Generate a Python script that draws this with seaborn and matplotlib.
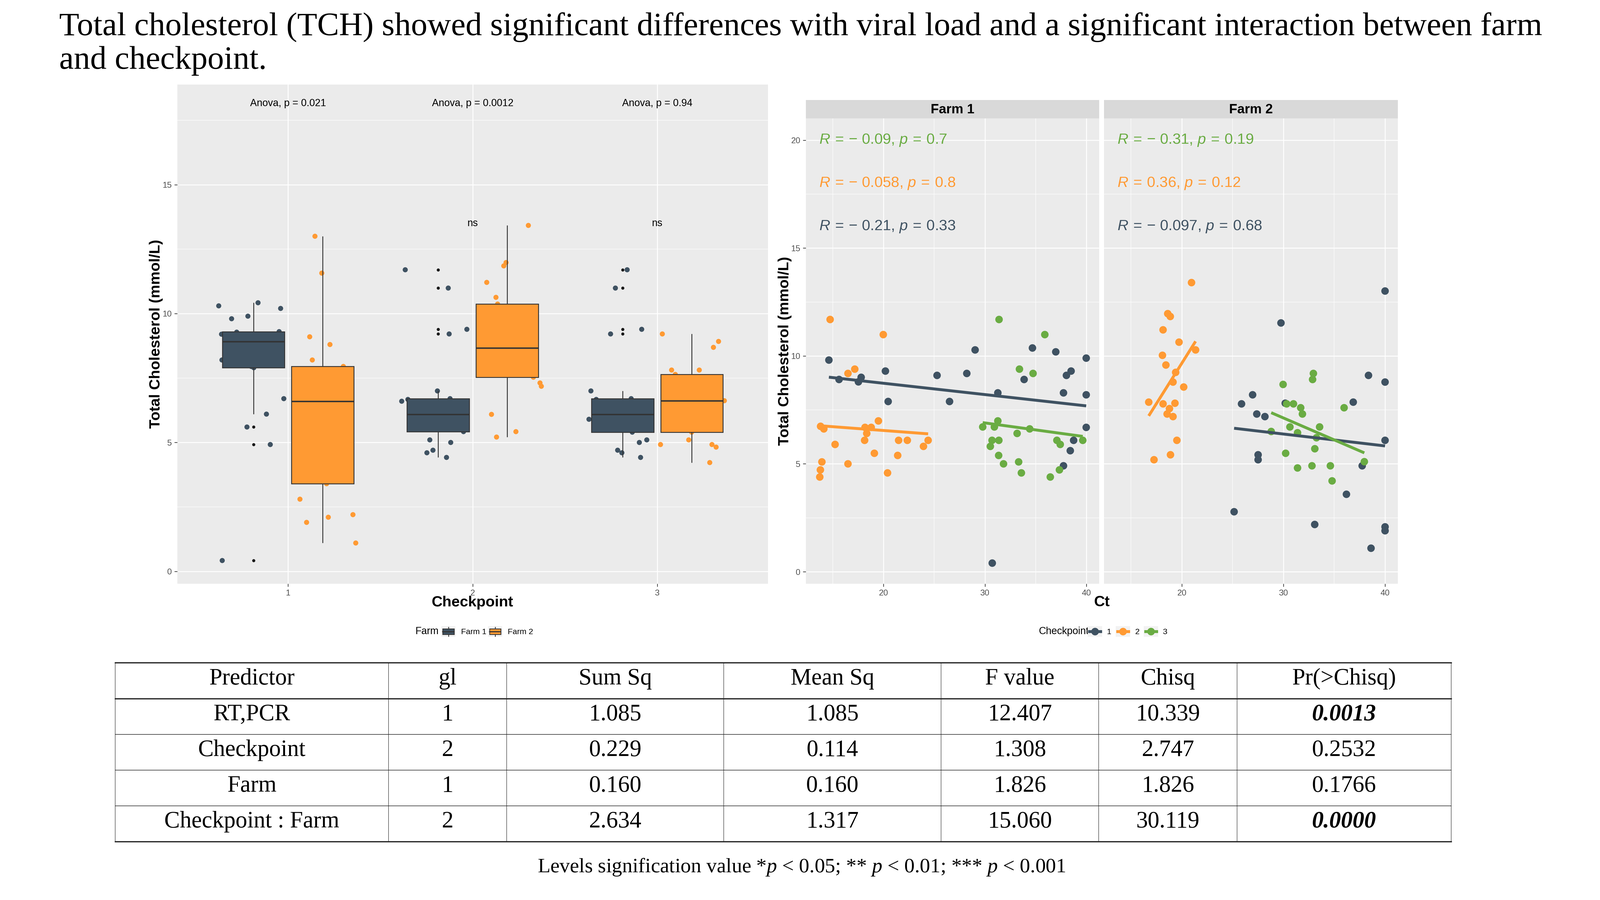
import numpy as np
import pandas as pd
import matplotlib
matplotlib.use("Agg")
import matplotlib.pyplot as plt
import seaborn as sns
from matplotlib.patches import Rectangle, Patch
from matplotlib.lines import Line2D
from matplotlib.legend_handler import HandlerBase
from matplotlib.ticker import MultipleLocator

# ---------------- data ----------------
checkpoints = ["1", "2", "3"]
farms = ["Farm 1", "Farm 2"]

# boxplot panel: Total cholesterol by checkpoint and farm
box_f1_cp1 = [0.42, 4.92, 5.60, 6.10, 6.70, 7.90, 7.95, 8.20, 8.50, 8.80, 8.91,
              9.00, 9.10, 9.20, 9.28, 9.30, 9.80, 9.90, 10.20, 10.30, 10.42]
box_f2_cp1 = [1.10, 1.90, 2.10, 2.20, 2.80, 3.40, 3.60, 4.20, 5.00, 5.90, 6.60,
              6.90, 7.18, 7.50, 7.70, 7.95, 8.20, 8.80, 9.10, 11.57, 13.00]
box_f1_cp2 = [4.42, 4.60, 4.70, 5.00, 5.10, 5.42, 5.60, 5.80, 5.90, 6.00, 6.09,
              6.30, 6.50, 6.60, 6.67, 6.70, 7.00, 9.21, 9.39, 10.99, 11.70]
box_f2_cp2 = [5.21, 5.42, 6.09, 7.18, 7.31, 7.53, 7.60, 7.90, 8.20, 8.50, 8.67,
              9.00, 9.30, 9.62, 10.00, 10.37, 10.63, 11.21, 11.85, 11.98, 13.42]
box_f1_cp3 = [4.42, 4.60, 4.70, 5.00, 5.10, 5.40, 5.60, 5.80, 5.90, 6.00, 6.09,
              6.30, 6.50, 6.60, 6.67, 6.70, 7.00, 9.21, 9.39, 10.99, 11.70]
box_f2_cp3 = [4.22, 4.82, 4.92, 4.92, 5.10, 5.40, 5.71, 5.90, 6.10, 6.40, 6.62,
              6.80, 7.00, 7.20, 7.40, 7.64, 7.81, 7.81, 8.69, 8.92, 9.21]
anova_labels = ["Anova, p = 0.021", "Anova, p = 0.0012", "Anova, p = 0.94"]
signif_labels = ["", "ns", "ns"]
anova_y = 18.15
signif_y = 13.5

# scatter panels: Ct vs total cholesterol
ct_f1_cp1 = [14.62, 15.62, 17.53, 17.80, 20.19, 20.46, 25.28, 26.51, 28.21, 29.03, 31.27, 30.72,
             34.68, 33.86, 36.98, 38.03, 38.49, 37.74, 39.98, 39.98, 39.98, 38.74, 38.41, 37.74]
tch_f1_cp1 = [9.81, 8.91, 8.80, 9.01, 9.30, 7.89, 9.10, 7.89, 9.19, 10.28, 8.29, 0.40,
              10.37, 8.91, 10.19, 9.10, 9.30, 8.29, 9.90, 8.20, 6.69, 6.09, 5.61, 4.91]
ct_f1_cp2 = [14.74, 19.98, 17.17, 16.50, 18.18, 18.79, 14.12, 13.80, 18.35, 19.50, 18.14, 15.23,
             21.49, 22.35, 24.40, 23.94, 19.10, 21.40, 13.93, 16.50, 13.78, 13.72, 20.40]
tch_f1_cp2 = [11.69, 10.99, 9.39, 9.19, 6.69, 6.69, 6.62, 6.74, 6.41, 6.99, 6.09, 5.90,
              6.09, 6.09, 6.09, 5.81, 5.49, 5.39, 5.09, 5.00, 4.72, 4.39, 4.58]
ct_f1_cp3 = [31.39, 35.90, 33.40, 34.74, 29.78, 30.93, 31.27, 33.17, 34.41, 30.70, 31.37,
             30.53, 31.35, 31.83, 33.32, 33.59, 36.44, 37.34, 37.09, 37.42, 39.64]
tch_f1_cp3 = [11.69, 10.99, 9.39, 9.19, 6.71, 6.71, 6.99, 6.41, 6.62, 6.09, 6.09,
              5.81, 5.39, 5.00, 5.09, 4.58, 4.39, 4.72, 6.09, 5.90, 6.09]
ct_f2_cp1 = [40.0, 29.76, 38.37, 40.0, 26.97, 25.88, 30.18, 36.87, 27.38, 28.18,
             27.51, 27.51, 40.0, 37.75, 36.20, 25.15, 33.08, 40.0, 40.0, 38.62]
tch_f2_cp1 = [13.01, 11.53, 9.10, 8.79, 8.20, 7.78, 7.81, 7.86, 7.31, 7.19,
              5.42, 5.19, 6.09, 4.91, 3.59, 2.78, 2.19, 2.08, 1.90, 1.09]
ct_f2_cp2 = [20.96, 18.62, 18.87, 18.16, 19.73, 21.36, 18.10, 18.44, 19.40, 19.14,
             20.19, 16.75, 18.16, 19.33, 18.79, 18.56, 19.14, 19.52, 18.89, 17.27]
tch_f2_cp2 = [13.40, 11.96, 11.83, 11.21, 10.64, 10.28, 10.03, 9.58, 9.24, 8.79,
              8.56, 7.86, 7.78, 7.81, 7.56, 7.31, 7.19, 6.09, 5.42, 5.19]
ct_f2_cp3 = [32.95, 32.87, 29.97, 30.32, 30.99, 31.70, 31.87, 35.97, 30.64, 33.56,
             28.80, 31.39, 33.25, 33.09, 30.22, 31.39, 32.81, 34.62, 37.96, 34.79]
tch_f2_cp3 = [9.19, 8.91, 8.68, 7.78, 7.78, 7.60, 7.31, 7.60, 6.71, 6.71,
              6.50, 6.44, 6.21, 5.70, 5.49, 4.81, 4.91, 4.91, 5.10, 4.21]

# correlation labels (checkpoint 3, 2, 1 from top)
cor_r_f1 = ["\u2212 0.09", "\u2212 0.058", "\u2212 0.21"]
cor_p_f1 = ["0.7", "0.8", "0.33"]
cor_r_f2 = ["\u2212 0.31", "0.36", "\u2212 0.097"]
cor_p_f2 = ["0.19", "0.12", "0.68"]
cor_order = ["3", "2", "1"]
cor_y = [20, 18, 16]

# ANOVA table
tbl_headers = ["Predictor", "gl", "Sum Sq", "Mean Sq", "F value", "Chisq", "Pr(>Chisq)"]
tbl_predictor = ["RT,PCR", "Checkpoint", "Farm", "Checkpoint : Farm"]
tbl_gl = ["1", "2", "1", "2"]
tbl_sumsq = ["1.085", "0.229", "0.160", "2.634"]
tbl_meansq = ["1.085", "0.114", "0.160", "1.317"]
tbl_f = ["12.407", "1.308", "1.826", "15.060"]
tbl_chisq = ["10.339", "2.747", "1.826", "30.119"]
tbl_pr = ["0.0013", "0.2532", "0.1766", "0.0000"]
tbl_bold = [True, False, False, True]

title_lines = ["Total cholesterol (TCH) showed significant differences with viral load and a significant interaction between farm",
               "and checkpoint."]

# ---------------- style ----------------
DARK, ORANGE, GREEN = "#3F5262", "#FF9A33", "#6AAC43"
farm_colors = {"Farm 1": DARK, "Farm 2": ORANGE}
cp_colors = [DARK, ORANGE, GREEN]

plt.rcParams["font.family"] = ["Liberation Sans", "DejaVu Sans"]
plt.rcParams["mathtext.fontset"] = "custom"
plt.rcParams["mathtext.rm"] = "Liberation Serif"
plt.rcParams["mathtext.it"] = "Liberation Serif:italic"
plt.rcParams["mathtext.sf"] = "Liberation Sans:italic"

W, H = 6000, 3375
fig = plt.figure(figsize=(20, 11.25), dpi=300)


def fx(px):
    return px / W


def fy(py):
    return 1 - py / H


def gg_style(ax):
    ax.set_facecolor("#EBEBEB")
    for s in ax.spines.values():
        s.set_visible(False)
    ax.set_axisbelow(True)
    ax.grid(True, which="major", color="white", lw=0.8)
    ax.grid(True, which="minor", color="white", lw=0.4)
    ax.tick_params(which="major", length=2.75, width=0.6, color="#333333",
                   labelsize=7.5, labelcolor="#4D4D4D", pad=2.2)
    ax.tick_params(which="minor", length=0)


# ---------------- left: boxplot ----------------
rows = []
for cp, f1, f2 in zip(checkpoints, [box_f1_cp1, box_f1_cp2, box_f1_cp3], [box_f2_cp1, box_f2_cp2, box_f2_cp3]):
    rows += [(cp, "Farm 1", v) for v in f1]
    rows += [(cp, "Farm 2", v) for v in f2]
df_box = pd.DataFrame(rows, columns=["Checkpoint", "Farm", "TCH"])

axL = fig.add_axes([fx(665), fy(2189), fx(2880) - fx(665), fy(316.6) - fy(2189)])
np.random.seed(7)
sns.stripplot(data=df_box, x="Checkpoint", y="TCH", hue="Farm", order=checkpoints, hue_order=farms,
              palette=farm_colors, dodge=True, jitter=0.37, size=4.6, linewidth=0,
              legend=False, ax=axL, zorder=2)
sns.boxplot(data=df_box, x="Checkpoint", y="TCH", hue="Farm", order=checkpoints, hue_order=farms,
            palette=farm_colors, saturation=1, width=0.75, gap=0.1, linecolor="#333333",
            linewidth=0.8, showcaps=False, fliersize=2.8,
            flierprops=dict(marker="o", markerfacecolor="#1A1A1A", markeredgecolor="none"),
            medianprops=dict(linewidth=1.3), legend=False, ax=axL, zorder=3)
gg_style(axL)
axL.set_xlim(-0.6, 2.6)
axL.set_ylim(-0.48, 18.89)
axL.yaxis.set_major_locator(MultipleLocator(5))
axL.yaxis.set_minor_locator(MultipleLocator(2.5))
axL.xaxis.grid(True, which="major", color="white", lw=0.8)
axL.set_xlabel("")
axL.set_ylabel("Total Cholesterol (mmol/L)", fontsize=13.5, fontweight="bold")
axL.yaxis.set_label_coords(-0.0244, 0.5)
for i, (lab, sig) in enumerate(zip(anova_labels, signif_labels)):
    axL.text(i, anova_y, lab, ha="center", va="center", fontsize=9, color="black")
    if sig:
        axL.text(i, signif_y, sig, ha="center", va="center", fontsize=9, color="black")
fig.text(fx(1772), fy(2260), "Checkpoint", ha="center", va="center", fontsize=13.5, fontweight="bold")

# ---------------- right: scatter facets ----------------
sc_rows = []
for farm, cts, tchs in [("Farm 1", [ct_f1_cp1, ct_f1_cp2, ct_f1_cp3], [tch_f1_cp1, tch_f1_cp2, tch_f1_cp3]),
                        ("Farm 2", [ct_f2_cp1, ct_f2_cp2, ct_f2_cp3], [tch_f2_cp1, tch_f2_cp2, tch_f2_cp3])]:
    for cp, c, t in zip(checkpoints, cts, tchs):
        sc_rows += [(farm, cp, a, b) for a, b in zip(c, t)]
df_sc = pd.DataFrame(sc_rows, columns=["Farm", "Checkpoint", "Ct", "TCH"])

panel_x = [(3022, 4122), (4140, 5242)]
cor_labels = [(cor_r_f1, cor_p_f1), (cor_r_f2, cor_p_f2)]
SP = "\u2004"
axes_r = []
for k, farm in enumerate(farms):
    x0, x1 = panel_x[k]
    ax = fig.add_axes([fx(x0), fy(2189), fx(x1) - fx(x0), fy(444) - fy(2189)])
    axes_r.append(ax)
    d = df_sc[df_sc["Farm"] == farm]
    sns.scatterplot(data=d, x="Ct", y="TCH", hue="Checkpoint", hue_order=checkpoints, palette=cp_colors,
                    s=46, linewidth=0, legend=False, ax=ax, zorder=2)
    for cp, col in zip(checkpoints, cp_colors):
        sub = d[d["Checkpoint"] == cp]
        sns.regplot(data=sub, x="Ct", y="TCH", scatter=False, ci=None, color=col, truncate=True,
                    line_kws=dict(lw=2.6, zorder=3, solid_capstyle="butt"), ax=ax)
    gg_style(ax)
    ax.set_xlim(12.35, 41.26)
    ax.set_ylim(-0.556, 21.01)
    ax.xaxis.set_major_locator(MultipleLocator(10))
    ax.xaxis.set_minor_locator(MultipleLocator(5))
    ax.yaxis.set_major_locator(MultipleLocator(5))
    ax.yaxis.set_minor_locator(MultipleLocator(2.5))
    ax.set_xlabel("")
    ax.set_ylabel("")
    rr, pp = cor_labels[k]
    for cp, r, p, yy in zip(cor_order, rr, pp, cor_y):
        col = cp_colors[checkpoints.index(cp)]
        lab = "$\\mathsf{R}$" + SP + "=" + SP + r + ", $\\mathsf{p}$" + SP + "=" + SP + p
        ax.text(13.67, yy, lab, ha="left", va="center", fontsize=13.5, color=col)
    # strip
    sax = fig.add_axes([fx(x0), fy(444), fx(x1) - fx(x0), fy(375) - fy(444)])
    sax.set_facecolor("#D9D9D9")
    sax.set_xticks([])
    sax.set_yticks([])
    for s in sax.spines.values():
        s.set_visible(False)
    sax.text(0.5, 0.47, farm, ha="center", va="center", fontsize=12, fontweight="bold",
             transform=sax.transAxes)

axes_r[0].set_ylabel("Total Cholesterol (mmol/L)", fontsize=13.5, fontweight="bold")
axes_r[0].yaxis.set_label_coords(-0.048, 0.5)
axes_r[1].tick_params(which="both", left=False, labelleft=False)
fig.text(fx(4132), fy(2260), "Ct", ha="center", va="center", fontsize=13.5, fontweight="bold")


# ---------------- legends ----------------
class BoxKey(HandlerBase):
    def create_artists(self, legend, orig_handle, xdescent, ydescent, width, height, fontsize, trans):
        x0, y0 = -xdescent, -ydescent
        bg = Rectangle((x0, y0), width, height, facecolor="#F2F2F2", edgecolor="none", transform=trans)
        bx = Rectangle((x0 + 0.1 * width, y0 + 0.22 * height), 0.8 * width, 0.52 * height,
                       facecolor=orig_handle.get_facecolor(), edgecolor="#333333", lw=0.7, transform=trans)
        med = Line2D([x0 + 0.1 * width, x0 + 0.9 * width], [y0 + 0.48 * height] * 2, color="#333333",
                     lw=1.0, transform=trans)
        w1 = Line2D([x0 + 0.5 * width] * 2, [y0 + 0.74 * height, y0 + 0.9 * height], color="#333333",
                    lw=0.7, transform=trans)
        w2 = Line2D([x0 + 0.5 * width] * 2, [y0 + 0.06 * height, y0 + 0.22 * height], color="#333333",
                    lw=0.7, transform=trans)
        return [bg, bx, med, w1, w2]


class PointKey(HandlerBase):
    def create_artists(self, legend, orig_handle, xdescent, ydescent, width, height, fontsize, trans):
        x0, y0 = -xdescent, -ydescent
        col = orig_handle.get_color()
        bg = Rectangle((x0, y0), width, height, facecolor="#F2F2F2", edgecolor="none", transform=trans)
        ln = Line2D([x0 + 0.12 * width, x0 + 0.88 * width], [y0 + 0.5 * height] * 2, color=col, lw=2.6,
                    transform=trans)
        pt = Line2D([x0 + 0.5 * width], [y0 + 0.5 * height], marker="o", markersize=6.8, color=col,
                    markeredgewidth=0, linestyle="none", transform=trans)
        return [bg, ln, pt]


farm_handles = [Patch(facecolor=farm_colors[f]) for f in farms]
fig.text(fx(1558), fy(2368), "Farm", ha="left", va="center", fontsize=9)
fig.legend(farm_handles, farms, handler_map={Patch: BoxKey()}, loc="center left",
           bbox_to_anchor=(fx(1655), fy(2368)), bbox_transform=fig.transFigure, ncol=2, frameon=False,
           fontsize=7.2, handlelength=1.77, handleheight=1.7, handletextpad=0.7, columnspacing=0.2,
           borderpad=0, borderaxespad=0)

cp_handles = [Line2D([], [], color=c) for c in cp_colors]
fig.text(fx(3895), fy(2368), "Checkpoint", ha="left", va="center", fontsize=9)
fig.legend(cp_handles, checkpoints, handler_map={Line2D: PointKey()}, loc="center left",
           bbox_to_anchor=(fx(4079), fy(2368)), bbox_transform=fig.transFigure, ncol=3, frameon=False,
           fontsize=7.2, handlelength=1.8, handleheight=1.7, handletextpad=0.6, columnspacing=0.55,
           borderpad=0, borderaxespad=0)

# ---------------- title ----------------
fig.text(fx(222), fy(131.7), title_lines[0], ha="left", va="baseline", fontsize=29.5,
         family=["Liberation Serif", "DejaVu Serif"])
fig.text(fx(222), fy(258.3), title_lines[1], ha="left", va="baseline", fontsize=29.5,
         family=["Liberation Serif", "DejaVu Serif"])

# ---------------- table ----------------
col_edges = [432, 1457, 1900, 2714, 3529, 4120, 4639, 5442]
row_edges = [2485, 2620, 2754, 2888, 3022, 3156]
axT = fig.add_axes([fx(432), fy(3156), fx(5442) - fx(432), fy(2485) - fy(3156)])
axT.set_xlim(432, 5442)
axT.set_ylim(3156, 2485)
axT.axis("off")
serif = ["Liberation Serif", "DejaVu Serif"]
for ce in col_edges:
    axT.plot([ce, ce], [row_edges[0], row_edges[-1]], color="#555555", lw=0.5, clip_on=False)
for j, re in enumerate(row_edges):
    thick = j in (0, 1, len(row_edges) - 1)
    axT.plot([col_edges[0], col_edges[-1]], [re, re], color="#222222", lw=1.1 if thick else 0.5,
             clip_on=False)
centers = [(a + b) / 2 for a, b in zip(col_edges[:-1], col_edges[1:])]
for c, h in zip(centers, tbl_headers):
    axT.text(c, row_edges[0] + 82, h, ha="center", va="baseline", fontsize=21, family=serif)
columns = [tbl_predictor, tbl_gl, tbl_sumsq, tbl_meansq, tbl_f, tbl_chisq, tbl_pr]
for i in range(len(tbl_predictor)):
    for j, (c, colvals) in enumerate(zip(centers, columns)):
        kw = {}
        if j == len(columns) - 1 and tbl_bold[i]:
            kw = dict(fontweight="bold", fontstyle="italic")
        axT.text(c, row_edges[i + 1] + 81, colvals[i], ha="center", va="baseline", fontsize=21,
                 family=serif, **kw)

fig.text(fx(3006), fy(3271),
         "Levels signification value *$\\mathit{p}$ < 0.05; ** $\\mathit{p}$ < 0.01; *** $\\mathit{p}$ < 0.001",
         ha="center", va="baseline", fontsize=18.6, family=serif)

fig.savefig("out.png", dpi=300, facecolor="white")
